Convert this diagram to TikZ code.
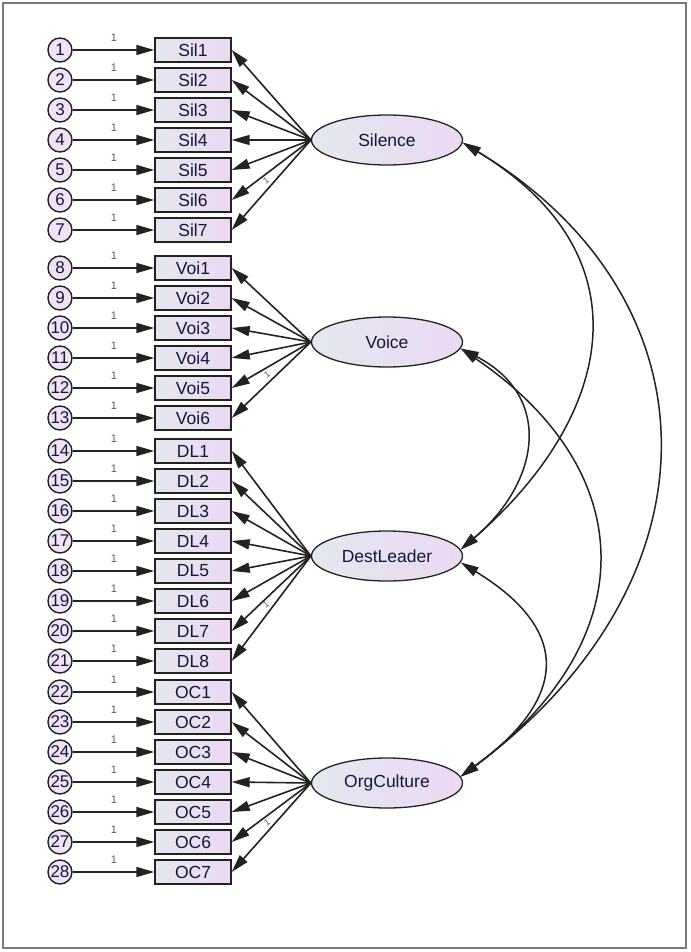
\documentclass[tikz,border=0pt]{standalone}
\usepackage{fontspec}
\setmainfont{Liberation Sans}
\usetikzlibrary{arrows.meta,shapes.geometric}
\definecolor{txt}{HTML}{141838}
\definecolor{lav}{HTML}{ECD8F4}
\definecolor{gry}{HTML}{E3E8EE}
\definecolor{edgec}{HTML}{222222}
\definecolor{lbl}{HTML}{5A5A70}
\definecolor{framec}{HTML}{7A7A7A}
\begin{document}
\begin{tikzpicture}[x=1pt,y=-1pt,
  obs/.style={rectangle, draw=edgec, line width=1.4pt, left color=gry, right color=lav,
    minimum width=76pt, minimum height=24pt, inner sep=0pt,
    font=\fontsize{17.5}{17.5}\selectfont, text=txt},
  err/.style={circle, draw=edgec, line width=1.4pt, fill=lav!75!white,
    minimum size=24pt, inner sep=0pt, font=\fontsize{17}{17}\selectfont, text=txt},
  lat/.style={ellipse, draw=edgec, line width=1.3pt, left color=gry, right color=lav,
    minimum width=151pt, minimum height=50pt, inner sep=0pt,
    font=\fontsize{17.5}{17.5}\selectfont, text=txt},
  arr/.style={-{Triangle[length=18pt,width=10pt]}, line width=1.6pt, draw=edgec},
  cov/.style={{Triangle[length=18pt,width=10pt]}-{Triangle[length=18pt,width=10pt]}, line width=1.5pt, draw=edgec},
  one/.style={font=\fontsize{11}{11}\selectfont, text=lbl, inner sep=0pt},
  tiny/.style={font=\fontsize{9}{9}\selectfont, text=lbl, inner sep=0pt, rotate=37}
]
\useasboundingbox (0,0) rectangle (690,952);
\draw[framec, line width=1.4pt] (3,3) rectangle (686,948);

% latent variables
\node[lat] (Silence) at (387,140) {Silence};
\node[lat] (Voice) at (387,342) {Voice};
\node[lat] (DestLeader) at (387,556) {DestLeader};
\node[lat] (OrgCulture) at (387,783) {OrgCulture};

% Silence indicators
\foreach \i/\y in {1/50,2/80,3/110,4/140,5/170,6/200,7/230}{
  \node[obs] (Sil\i) at (193,\y) {Sil\i};
  \node[err] (e\i) at (60,\y) {\i};
  \draw[arr] (e\i.east) -- (Sil\i.west);
  \node[one] (o\i) at (114,\y-12) {1};
  \draw[arr] (Silence.west) -- (Sil\i.east);
}
% Voice indicators
\foreach \i/\n/\y in {1/8/268,2/9/298,3/10/328,4/11/358,5/12/388,6/13/418}{
  \node[obs] (Voi\i) at (193,\y) {Voi\i};
  \node[err] (e\n) at (60,\y) {\n};
  \draw[arr] (e\n.east) -- (Voi\i.west);
  \node[one] (o\n) at (114,\y-12) {1};
  \draw[arr] (Voice.west) -- (Voi\i.east);
}
% DestLeader indicators
\foreach \i/\n/\y in {1/14/451,2/15/481,3/16/511,4/17/541,5/18/571,6/19/601,7/20/631,8/21/661}{
  \node[obs] (DL\i) at (193,\y) {DL\i};
  \node[err] (e\n) at (60,\y) {\n};
  \draw[arr] (e\n.east) -- (DL\i.west);
  \node[one] (o\n) at (114,\y-12) {1};
  \draw[arr] (DestLeader.west) -- (DL\i.east);
}
% OrgCulture indicators
\foreach \i/\n/\y in {1/22/692,2/23/722,3/24/752,4/25/782,5/26/812,6/27/842,7/28/872}{
  \node[obs] (OC\i) at (193,\y) {OC\i};
  \node[err] (e\n) at (60,\y) {\n};
  \draw[arr] (e\n.east) -- (OC\i.west);
  \node[one] (o\n) at (114,\y-12) {1};
  \draw[arr] (OrgCulture.west) -- (OC\i.east);
}

% fixed loading labels
\node[tiny] (fs) at (266,181) {1};
\node[tiny] (fv) at (267,375) {1};
\node[tiny] (fd) at (266,605) {1};
\node[tiny] (fo) at (267,823) {1};

% covariances
\draw[cov] (Silence.-2) .. controls (650,256) and (613,418) .. (DestLeader.5);
\draw[cov] (Silence.-2) .. controls (719,297) and (727,579) .. (OrgCulture.5);
\draw[cov] (Voice.-5) .. controls (553,396) and (541,481) .. (DestLeader.5);
\draw[cov] (Voice.-5) .. controls (645,474) and (641,643) .. (OrgCulture.5);
\draw[cov] (DestLeader.-5) .. controls (573,631) and (567,699) .. (OrgCulture.5);
\end{tikzpicture}
\end{document}
